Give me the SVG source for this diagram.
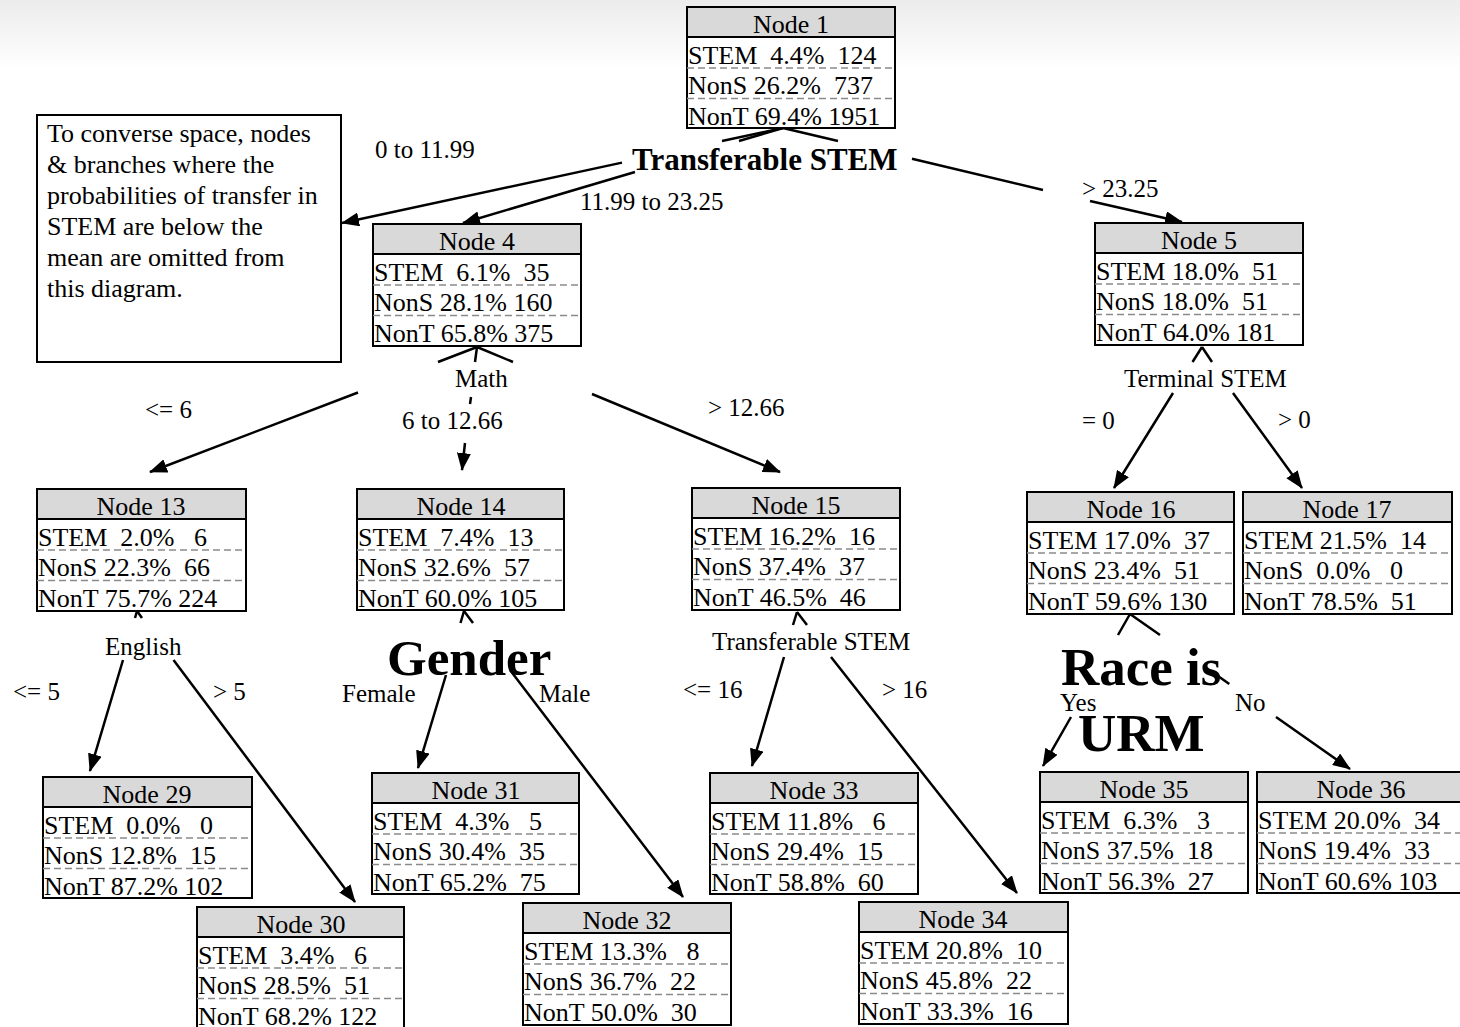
<svg xmlns="http://www.w3.org/2000/svg" width="1460" height="1027" viewBox="0 0 1460 1027">
<style>
text{font-family:"Liberation Serif","Times New Roman",serif;fill:#000}
.nt{font-size:26px}
.hd{font-size:26px;text-anchor:middle}
.lb{font-size:25px}
.bt{font-size:31px;font-weight:bold}
.big{font-size:51px;font-weight:bold}
.big2{font-size:53px;font-weight:bold}
.box{fill:#fff;stroke:#000;stroke-width:2}
.hdr{fill:#d9d9d9;stroke:#000;stroke-width:2}
.sep{stroke:#8a8a8a;stroke-width:1.5;stroke-dasharray:7 4;fill:none}
.arr{fill:none;stroke:#000;stroke-width:2.5;marker-end:url(#ah)}
</style>
<defs>
<linearGradient id="bg" x1="0" y1="0" x2="0" y2="1">
<stop offset="0" stop-color="#ececec"/>
<stop offset="1" stop-color="#ffffff"/>
</linearGradient>
<marker id="ah" viewBox="0 0 18 14" refX="17" refY="7" markerWidth="18" markerHeight="14" markerUnits="userSpaceOnUse" orient="auto">
<path d="M0,0 L18,7 L0,14 z" fill="#000"/>
</marker>
</defs>
<rect x="0" y="0" width="1460" height="1027" fill="#fff"/>
<rect x="0" y="0" width="1460" height="70" fill="url(#bg)"/>

<g id="connectors">
<path class="arr" d="M783,128 L722,141 M622,162.6 L342,223"/>
<path class="arr" d="M783,128 L739,141 M635,172 L463,223"/>
<path class="arr" d="M783,128 L838,141 M912,158.7 L1043,190 M1090,201 L1182,222"/>
<path class="arr" d="M477,347 L438,362 M358,392.5 L150,472"/>
<path class="arr" d="M477,347 L475,362 M471,397 L470,404 M465,443 L462,470"/>
<path class="arr" d="M477,347 L513,362 M592,394 L780,472"/>
<path class="arr" d="M1202,347 L1192.5,362 M1173,393 L1114,488"/>
<path class="arr" d="M1202,347 L1212,362 M1233,393 L1302,488"/>
<path class="arr" d="M137,611 L135,618 M123,660 L90,771"/>
<path class="arr" d="M137,611 L142,618 M173.5,660 L355,902"/>
<path class="arr" d="M464,611 L460.5,623 M446,675 L418,768"/>
<path class="arr" d="M464,611 L473,623 M510,670 L683,897"/>
<path class="arr" d="M797,612 L793,625 M784,657 L752,766"/>
<path class="arr" d="M797,612 L807,625 M831,657 L1017,893"/>
<path class="arr" d="M1130,614 L1118,635 M1071,717 L1043,766"/>
<path class="arr" d="M1130,614 L1160,635 M1213.7,673 L1229.3,684 M1276,717 L1350,769"/>
</g>

<g id="labels">
<text class="bt" x="632" y="170">Transferable STEM</text>
<text class="lb" x="375" y="158">0 to 11.99</text>
<text class="lb" x="580" y="210">11.99 to 23.25</text>
<text class="lb" x="1082" y="197">&gt; 23.25</text>
<text class="lb" x="455" y="387">Math</text>
<text class="lb" x="145" y="418">&lt;= 6</text>
<text class="lb" x="402" y="429">6 to 12.66</text>
<text class="lb" x="708" y="416">&gt; 12.66</text>
<text class="lb" x="1124" y="387">Terminal STEM</text>
<text class="lb" x="1082" y="429">= 0</text>
<text class="lb" x="1278" y="428">&gt; 0</text>
<text class="lb" x="105" y="655">English</text>
<text class="lb" x="13" y="700">&lt;= 5</text>
<text class="lb" x="213" y="700">&gt; 5</text>
<text class="big" x="387" y="675">Gender</text>
<text class="lb" x="342" y="702">Female</text>
<text class="lb" x="539" y="702">Male</text>
<text class="lb" x="712" y="650">Transferable STEM</text>
<text class="lb" x="683" y="698">&lt;= 16</text>
<text class="lb" x="882" y="698">&gt; 16</text>
<text class="big2" x="1061" y="685">Race is</text>
<text class="big2" x="1078" y="751">URM</text>
<text class="lb" x="1060" y="711">Yes</text>
<text class="lb" x="1235" y="711">No</text>
</g>

<g id="note">
<rect class="box" x="37" y="115" width="304" height="247"/>
<text class="nt" x="47" y="142">To converse space, nodes</text>
<text class="nt" x="47" y="173">&amp; branches where the</text>
<text class="nt" x="47" y="204">probabilities of transfer in</text>
<text class="nt" x="47" y="235">STEM are below the</text>
<text class="nt" x="47" y="266">mean are omitted from</text>
<text class="nt" x="47" y="297">this diagram.</text>
</g>

<g id="node1" transform="translate(687,7)">
<rect class="box" width="208" height="121"/><rect class="hdr" width="208" height="30"/>
<line class="sep" x1="0" y1="61" x2="208" y2="61"/><line class="sep" x1="0" y1="91.5" x2="208" y2="91.5"/>
<text class="hd" x="104" y="26">Node 1</text>
<text class="nt" x="1" y="56.5" xml:space="preserve">STEM  4.4%  124</text>
<text class="nt" x="1" y="87" xml:space="preserve">NonS 26.2%  737</text>
<text class="nt" x="1" y="117.5" xml:space="preserve">NonT 69.4% 1951</text>
</g>

<g id="node4" transform="translate(373,224)">
<rect class="box" width="208" height="122"/><rect class="hdr" width="208" height="30"/>
<line class="sep" x1="0" y1="61" x2="208" y2="61"/><line class="sep" x1="0" y1="91.5" x2="208" y2="91.5"/>
<text class="hd" x="104" y="26">Node 4</text>
<text class="nt" x="1" y="56.5" xml:space="preserve">STEM  6.1%  35</text>
<text class="nt" x="1" y="87" xml:space="preserve">NonS 28.1% 160</text>
<text class="nt" x="1" y="117.5" xml:space="preserve">NonT 65.8% 375</text>
</g>

<g id="node5" transform="translate(1095,223)">
<rect class="box" width="208" height="122"/><rect class="hdr" width="208" height="30"/>
<line class="sep" x1="0" y1="61" x2="208" y2="61"/><line class="sep" x1="0" y1="91.5" x2="208" y2="91.5"/>
<text class="hd" x="104" y="26">Node 5</text>
<text class="nt" x="1" y="56.5" xml:space="preserve">STEM 18.0%  51</text>
<text class="nt" x="1" y="87" xml:space="preserve">NonS 18.0%  51</text>
<text class="nt" x="1" y="117.5" xml:space="preserve">NonT 64.0% 181</text>
</g>

<g id="node13" transform="translate(37,489)">
<rect class="box" width="209" height="122"/><rect class="hdr" width="209" height="30"/>
<line class="sep" x1="0" y1="61" x2="209" y2="61"/><line class="sep" x1="0" y1="91.5" x2="209" y2="91.5"/>
<text class="hd" x="104" y="26">Node 13</text>
<text class="nt" x="1" y="56.5" xml:space="preserve">STEM  2.0%   6</text>
<text class="nt" x="1" y="87" xml:space="preserve">NonS 22.3%  66</text>
<text class="nt" x="1" y="117.5" xml:space="preserve">NonT 75.7% 224</text>
</g>

<g id="node14" transform="translate(357,489)">
<rect class="box" width="207" height="121"/><rect class="hdr" width="207" height="30"/>
<line class="sep" x1="0" y1="61" x2="207" y2="61"/><line class="sep" x1="0" y1="91.5" x2="207" y2="91.5"/>
<text class="hd" x="104" y="26">Node 14</text>
<text class="nt" x="1" y="56.5" xml:space="preserve">STEM  7.4%  13</text>
<text class="nt" x="1" y="87" xml:space="preserve">NonS 32.6%  57</text>
<text class="nt" x="1" y="117.5" xml:space="preserve">NonT 60.0% 105</text>
</g>

<g id="node15" transform="translate(692,488)">
<rect class="box" width="208" height="122"/><rect class="hdr" width="208" height="30"/>
<line class="sep" x1="0" y1="61" x2="208" y2="61"/><line class="sep" x1="0" y1="91.5" x2="208" y2="91.5"/>
<text class="hd" x="104" y="26">Node 15</text>
<text class="nt" x="1" y="56.5" xml:space="preserve">STEM 16.2%  16</text>
<text class="nt" x="1" y="87" xml:space="preserve">NonS 37.4%  37</text>
<text class="nt" x="1" y="117.5" xml:space="preserve">NonT 46.5%  46</text>
</g>

<g id="node16" transform="translate(1027,492)">
<rect class="box" width="207" height="122"/><rect class="hdr" width="207" height="30"/>
<line class="sep" x1="0" y1="61" x2="207" y2="61"/><line class="sep" x1="0" y1="91.5" x2="207" y2="91.5"/>
<text class="hd" x="104" y="26">Node 16</text>
<text class="nt" x="1" y="56.5" xml:space="preserve">STEM 17.0%  37</text>
<text class="nt" x="1" y="87" xml:space="preserve">NonS 23.4%  51</text>
<text class="nt" x="1" y="117.5" xml:space="preserve">NonT 59.6% 130</text>
</g>

<g id="node17" transform="translate(1243,492)">
<rect class="box" width="209" height="122"/><rect class="hdr" width="209" height="30"/>
<line class="sep" x1="0" y1="61" x2="209" y2="61"/><line class="sep" x1="0" y1="91.5" x2="209" y2="91.5"/>
<text class="hd" x="104" y="26">Node 17</text>
<text class="nt" x="1" y="56.5" xml:space="preserve">STEM 21.5%  14</text>
<text class="nt" x="1" y="87" xml:space="preserve">NonS  0.0%   0</text>
<text class="nt" x="1" y="117.5" xml:space="preserve">NonT 78.5%  51</text>
</g>

<g id="node29" transform="translate(43,777)">
<rect class="box" width="209" height="121"/><rect class="hdr" width="209" height="30"/>
<line class="sep" x1="0" y1="61" x2="209" y2="61"/><line class="sep" x1="0" y1="91.5" x2="209" y2="91.5"/>
<text class="hd" x="104" y="26">Node 29</text>
<text class="nt" x="1" y="56.5" xml:space="preserve">STEM  0.0%   0</text>
<text class="nt" x="1" y="87" xml:space="preserve">NonS 12.8%  15</text>
<text class="nt" x="1" y="117.5" xml:space="preserve">NonT 87.2% 102</text>
</g>

<g id="node30" transform="translate(197,907)">
<rect class="box" width="207" height="122"/><rect class="hdr" width="207" height="30"/>
<line class="sep" x1="0" y1="61" x2="207" y2="61"/><line class="sep" x1="0" y1="91.5" x2="207" y2="91.5"/>
<text class="hd" x="104" y="26">Node 30</text>
<text class="nt" x="1" y="56.5" xml:space="preserve">STEM  3.4%   6</text>
<text class="nt" x="1" y="87" xml:space="preserve">NonS 28.5%  51</text>
<text class="nt" x="1" y="117.5" xml:space="preserve">NonT 68.2% 122</text>
</g>

<g id="node31" transform="translate(372,773)">
<rect class="box" width="207" height="121"/><rect class="hdr" width="207" height="30"/>
<line class="sep" x1="0" y1="61" x2="207" y2="61"/><line class="sep" x1="0" y1="91.5" x2="207" y2="91.5"/>
<text class="hd" x="104" y="26">Node 31</text>
<text class="nt" x="1" y="56.5" xml:space="preserve">STEM  4.3%   5</text>
<text class="nt" x="1" y="87" xml:space="preserve">NonS 30.4%  35</text>
<text class="nt" x="1" y="117.5" xml:space="preserve">NonT 65.2%  75</text>
</g>

<g id="node32" transform="translate(523,903)">
<rect class="box" width="208" height="122"/><rect class="hdr" width="208" height="30"/>
<line class="sep" x1="0" y1="61" x2="208" y2="61"/><line class="sep" x1="0" y1="91.5" x2="208" y2="91.5"/>
<text class="hd" x="104" y="26">Node 32</text>
<text class="nt" x="1" y="56.5" xml:space="preserve">STEM 13.3%   8</text>
<text class="nt" x="1" y="87" xml:space="preserve">NonS 36.7%  22</text>
<text class="nt" x="1" y="117.5" xml:space="preserve">NonT 50.0%  30</text>
</g>

<g id="node33" transform="translate(710,773)">
<rect class="box" width="208" height="121"/><rect class="hdr" width="208" height="30"/>
<line class="sep" x1="0" y1="61" x2="208" y2="61"/><line class="sep" x1="0" y1="91.5" x2="208" y2="91.5"/>
<text class="hd" x="104" y="26">Node 33</text>
<text class="nt" x="1" y="56.5" xml:space="preserve">STEM 11.8%   6</text>
<text class="nt" x="1" y="87" xml:space="preserve">NonS 29.4%  15</text>
<text class="nt" x="1" y="117.5" xml:space="preserve">NonT 58.8%  60</text>
</g>

<g id="node34" transform="translate(859,902)">
<rect class="box" width="209" height="122"/><rect class="hdr" width="209" height="30"/>
<line class="sep" x1="0" y1="61" x2="209" y2="61"/><line class="sep" x1="0" y1="91.5" x2="209" y2="91.5"/>
<text class="hd" x="104" y="26">Node 34</text>
<text class="nt" x="1" y="56.5" xml:space="preserve">STEM 20.8%  10</text>
<text class="nt" x="1" y="87" xml:space="preserve">NonS 45.8%  22</text>
<text class="nt" x="1" y="117.5" xml:space="preserve">NonT 33.3%  16</text>
</g>

<g id="node35" transform="translate(1040,772)">
<rect class="box" width="208" height="121"/><rect class="hdr" width="208" height="30"/>
<line class="sep" x1="0" y1="61" x2="208" y2="61"/><line class="sep" x1="0" y1="91.5" x2="208" y2="91.5"/>
<text class="hd" x="104" y="26">Node 35</text>
<text class="nt" x="1" y="56.5" xml:space="preserve">STEM  6.3%   3</text>
<text class="nt" x="1" y="87" xml:space="preserve">NonS 37.5%  18</text>
<text class="nt" x="1" y="117.5" xml:space="preserve">NonT 56.3%  27</text>
</g>

<g id="node36" transform="translate(1257,772)">
<rect class="box" width="208" height="121"/><rect class="hdr" width="208" height="30"/>
<line class="sep" x1="0" y1="61" x2="208" y2="61"/><line class="sep" x1="0" y1="91.5" x2="208" y2="91.5"/>
<text class="hd" x="104" y="26">Node 36</text>
<text class="nt" x="1" y="56.5" xml:space="preserve">STEM 20.0%  34</text>
<text class="nt" x="1" y="87" xml:space="preserve">NonS 19.4%  33</text>
<text class="nt" x="1" y="117.5" xml:space="preserve">NonT 60.6% 103</text>
</g>
</svg>
